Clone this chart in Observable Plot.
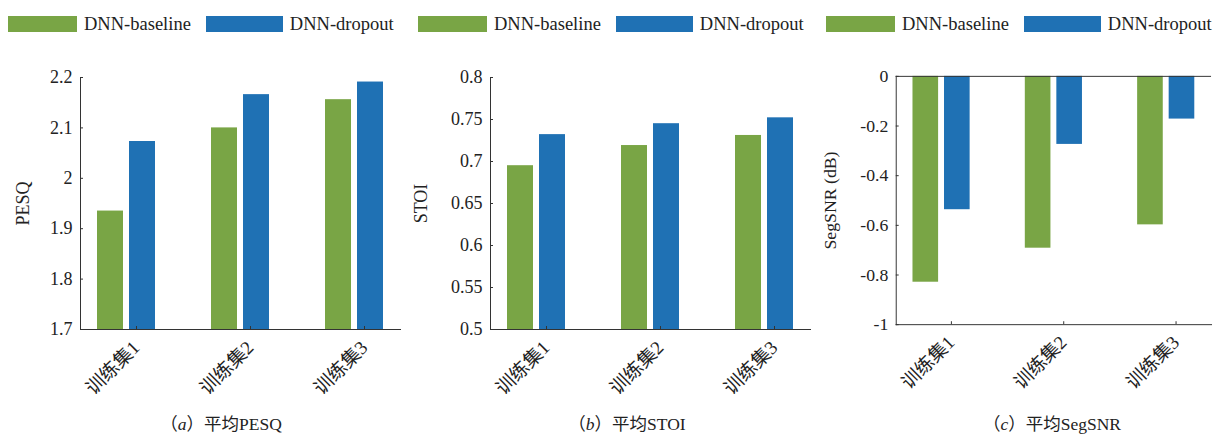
<!DOCTYPE html>
<html><head><meta charset="utf-8">
<script src="https://cdn.jsdelivr.net/npm/d3@7"></script>
<script src="https://cdn.jsdelivr.net/npm/@observablehq/plot@0.6"></script>
<style>
body{margin:0;background:#fff;width:1214px;height:436px;overflow:hidden;position:relative;font-family:"Liberation Serif","Noto Sans CJK SC",serif;color:#222;}
.panel{position:absolute;top:0;}
.legend{position:absolute;top:16px;height:16px;display:flex;align-items:center;font-size:18.5px;white-space:nowrap;}
.legend span{display:inline-block;}
.caption{position:absolute;top:413px;font-size:17.5px;transform:translateX(-50%);white-space:nowrap;line-height:20px;}
.caption .lat{font-family:"Liberation Serif",serif;}
.caption .cjk{font-family:"Noto Sans CJK SC",sans-serif;}
</style></head><body>
<script>
const categories = ["训练集1", "训练集2", "训练集3"];
const seriesNames = ["DNN-baseline", "DNN-dropout"];
const colors = ["#79a545", "#1f71b4"];

const pesqBaseline = [1.935, 2.100, 2.156];
const pesqDropout  = [2.073, 2.166, 2.191];
const stoiBaseline = [0.695, 0.719, 0.731];
const stoiDropout  = [0.732, 0.745, 0.752];
const snrBaseline  = [-0.829, -0.692, -0.598];
const snrDropout   = [-0.537, -0.274, -0.172];

const pesqTicks = [1.7, 1.8, 1.9, 2, 2.1, 2.2];
const stoiTicks = [0.5, 0.55, 0.6, 0.65, 0.7, 0.75, 0.8];
const snrTicks  = [-1, -0.8, -0.6, -0.4, -0.2, 0];

const yLabels = ["PESQ", "STOI", "SegSNR (dB)"];
const captionLetters = ["a", "b", "c"];
const captionPrefix = "平均";
const captionMetrics = ["PESQ", "STOI", "SegSNR"];

const FONT = '"Liberation Serif","Noto Sans CJK SC",serif';

function panel(cfg) {
  const rows = categories.map((c, i) => ({cat: c, base: cfg.base[i], drop: cfg.drop[i]}));
  const neg = cfg.domain[1] <= 0;
  const y0 = neg ? 0 : cfg.domain[0];
  const svg = Plot.plot({
    width: cfg.width, height: 440,
    marginLeft: cfg.mL, marginRight: cfg.mR, marginTop: 77, marginBottom: 111,
    style: {fontFamily: FONT, fontSize: "18px", color: "#333", background: "transparent", overflow: "visible"},
    x: {type: "band", domain: categories, paddingInner: 0.491, paddingOuter: 0.149, label: null},
    y: {domain: cfg.domain, label: cfg.label, labelArrow: "none"},
    marks: [
      Plot.barY(rows, {x: "cat", y1: y0, y2: "base", fill: colors[0], insetRight: 32}),
      Plot.barY(rows, {x: "cat", y1: y0, y2: "drop", fill: colors[1], insetLeft: 32}),
      Plot.axisY({ticks: cfg.ticks, tickSize: -3, tickPadding: 11, tickFormat: d => String(d),
        label: cfg.label, labelArrow: "none", labelAnchor: "center", labelOffset: cfg.labelOffset,
        fill: "#222", fontSize: 18}),
      Plot.axisX({tickSize: -3, tickRotate: -45, tickPadding: 18, dx: 10, label: null,
        fill: "#222", fontSize: 19}),
      Plot.frame({anchor: "left", stroke: "#333"}),
      Plot.frame({anchor: "bottom", stroke: "#333"}),
      neg ? Plot.ruleY([0], {stroke: "#333"}) : null
    ]
  });
  const div = document.createElement("div");
  div.className = "panel";
  div.style.left = cfg.left + "px";
  div.appendChild(svg);
  document.body.appendChild(div);

  const lg = document.createElement("div");
  lg.className = "legend";
  lg.style.left = cfg.legendLeft + "px";
  const swW = [69, 77];
  seriesNames.forEach((s, i) => {
    const sw = document.createElement("span");
    sw.style.width = swW[i] + "px"; sw.style.height = "16px"; sw.style.background = colors[i];
    sw.style.marginRight = "7px";
    const t = document.createElement("span");
    t.textContent = s;
    t.style.marginRight = i === 0 ? "15px" : "0";
    lg.appendChild(sw); lg.appendChild(t);
  });
  document.body.appendChild(lg);

  const cap = document.createElement("div");
  cap.className = "caption";
  cap.style.left = cfg.capX + "px";
  cap.innerHTML = '<span class="cjk">（</span><i class="lat">' + cfg.letter + '</i><span class="cjk">）' +
    captionPrefix + '</span><span class="lat">' + cfg.metric + '</span>';
  document.body.appendChild(cap);
}

panel({left: 0, width: 410, mL: 80, mR: 10, domain: [1.7, 2.2], ticks: pesqTicks,
  base: pesqBaseline, drop: pesqDropout, label: yLabels[0], labelOffset: 64,
  legendLeft: 8, capX: 221, letter: captionLetters[0], metric: captionMetrics[0]});
panel({left: 410, width: 410, mL: 80, mR: 10, domain: [0.5, 0.8], ticks: stoiTicks,
  base: stoiBaseline, drop: stoiDropout, label: yLabels[1], labelOffset: 76,
  legendLeft: 418, capX: 627, letter: captionLetters[1], metric: captionMetrics[1]});
panel({left: 810, width: 410, mL: 87, mR: 3, domain: [-1, 0], ticks: snrTicks,
  base: snrBaseline, drop: snrDropout, label: yLabels[2], labelOffset: 74,
  legendLeft: 826, capX: 1052, letter: captionLetters[2], metric: captionMetrics[2]});
</script>
</body></html>
